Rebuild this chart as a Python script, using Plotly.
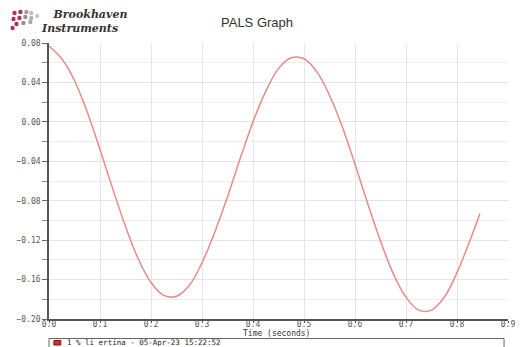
import plotly.graph_objects as go

# Time (seconds)
time_s = [0.0, 0.025, 0.05, 0.075, 0.1, 0.125, 0.15, 0.175, 0.2, 0.225,
          0.25, 0.275, 0.3, 0.325, 0.35, 0.375, 0.4, 0.425, 0.45, 0.475,
          0.5, 0.525, 0.55, 0.575, 0.6, 0.625, 0.65, 0.675, 0.7, 0.725,
          0.75, 0.775, 0.8, 0.825, 0.845]
# Signal values
signal = [0.077, 0.064, 0.042, 0.010, -0.028, -0.068, -0.106, -0.139, -0.163, -0.176,
          -0.177, -0.166, -0.143, -0.112, -0.076, -0.037, 0.000, 0.031, 0.054, 0.065,
          0.064, 0.051, 0.027, -0.005, -0.043, -0.083, -0.121, -0.154, -0.178, -0.191,
          -0.191, -0.178, -0.153, -0.121, -0.093]

series_name = "1 % li ertina - 05-Apr-23 15:22:52"
x_ticks = [0.0, 0.1, 0.2, 0.3, 0.4, 0.5, 0.6, 0.7, 0.8, 0.9]
y_ticks = [0.08, 0.04, 0.00, -0.04, -0.08, -0.12, -0.16, -0.20]

mono = "DejaVu Sans Mono"
OFF = 8                      # page body margin in the browser
W, H = 523 - OFF, 347 - OFF  # figure size that fills the visible window
L, R, T, B = 49 - OFF, 8, 43 - OFF, 28
PW, PH = W - L - R, H - T - B


def px_x(wx):  # window pixel -> paper x
    return (wx - OFF - L) / PW


def px_y(wy):  # window pixel -> paper y
    return (H - B - (wy - OFF)) / PH


fig = go.Figure()
fig.add_trace(go.Scatter(
    x=time_s, y=signal, mode="lines", name=series_name,
    line=dict(color="#e68b8b", width=1.5, shape="spline"),
    showlegend=False, hoverinfo="skip"))

fig.update_layout(
    width=W, height=H,
    margin=dict(l=L, r=R, t=T, b=B),
    paper_bgcolor="white", plot_bgcolor="white",
    showlegend=False,
    xaxis=dict(range=[0, 0.9], tickvals=x_ticks, tickformat=".1f",
               showgrid=True, gridcolor="#e4e4e4", gridwidth=1,
               showline=True, linecolor="#555555", linewidth=1.5,
               ticks="outside", ticklen=2, tickcolor="#555555",
               ticklabelstandoff=-5,
               tickfont=dict(family=mono, size=8, color="#555"),
               zeroline=False, fixedrange=True),
    yaxis=dict(range=[-0.20, 0.08], tickvals=y_ticks, tickformat=".2f",
               showgrid=True, gridcolor="#e4e4e4", gridwidth=1,
               showline=True, linecolor="#555555", linewidth=1.5,
               ticks="outside", ticklen=5, tickcolor="#666",
               tickfont=dict(family=mono, size=8, color="#555"),
               minor=dict(dtick=0.02, tick0=0, ticks="outside", ticklen=5, tickcolor="#888",
                          showgrid=True, gridcolor="#eeeeee"),
               zeroline=False, fixedrange=True),
)

# X axis title
fig.add_annotation(text="Time (seconds)", xref="paper", yref="paper",
                   x=px_x(280), y=px_y(333), showarrow=False,
                   xanchor="center", yanchor="middle",
                   font=dict(family=mono, size=8, color="#333"))

# Title
fig.add_annotation(text="PALS Graph", xref="paper", yref="paper",
                   x=px_x(260), y=px_y(23), showarrow=False,
                   xanchor="center", yanchor="middle",
                   font=dict(family="Liberation Sans", size=13, color="#333"))
# Logo text
fig.add_annotation(text="<b><i>&nbsp;&nbsp;&nbsp;Brookhaven</i></b><br><b><i>Instruments</i></b>",
                   xref="paper", yref="paper", align="left",
                   x=px_x(39), y=px_y(21), showarrow=False,
                   xanchor="left", yanchor="middle",
                   font=dict(family="DejaVu Serif", size=11, color="#333"))

# Logo dots
dots = [(14, 13, "#b0305a"), (20, 12, "#b0305a"), (26, 12, "#a0a0a0"), (31, 13, "#c0c0c0"),
        (13, 19, "#b0305a"), (19, 18, "#b0305a"), (25, 17, "#909090"), (31, 18, "#b0b0b0"),
        (37, 16, "#c8c8c8"), (16, 24, "#b0305a"), (23, 23, "#909090"), (30, 22, "#a8a8a8"),
        (12, 28, "#b0305a")]
for wx, wy, col in dots:
    r = 2.2
    fig.add_shape(type="circle", xref="paper", yref="paper",
                  x0=px_x(wx - r), x1=px_x(wx + r),
                  y0=px_y(wy + r), y1=px_y(wy - r),
                  fillcolor=col, line=dict(width=0), layer="above")

# Legend box (drawn below the plot, as in the original)
fig.add_shape(type="rect", xref="paper", yref="paper",
              x0=px_x(49), x1=px_x(511), y0=px_y(360), y1=px_y(338.5),
              fillcolor="white", line=dict(color="#666666", width=1), layer="above")
fig.add_shape(type="rect", xref="paper", yref="paper",
              x0=px_x(54), x1=px_x(61), y0=px_y(345), y1=px_y(340.5),
              fillcolor="#e02828", line=dict(color="#801010", width=1), layer="above")
fig.add_annotation(text=series_name, xref="paper", yref="paper",
                   x=px_x(65), y=px_y(342.5), showarrow=False,
                   xanchor="left", yanchor="middle",
                   font=dict(family=mono, size=7.5, color="#222"))

fig.write_html("out.html")
